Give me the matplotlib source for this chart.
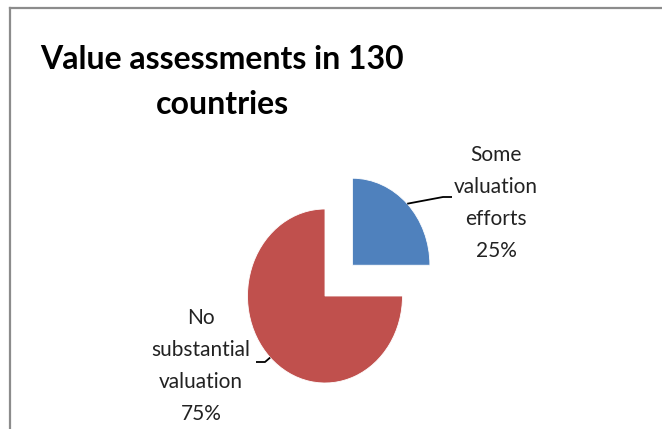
import numpy as np
import matplotlib.pyplot as plt
from matplotlib.lines import Line2D

# data
labels = ["Some\nvaluation\nefforts", "No\nsubstantial\nvaluation"]
shares = [25, 75]
colors = ["#4F81BD", "#C0504D"]
explode = [0.5, 0.0]

title = "Value assessments in 130\ncountries"

W, H = 662, 429
fig = plt.figure(figsize=(W / 100, H / 100), dpi=100)
ax = fig.add_axes([0, 0, 1, 1])

wedges, _ = ax.pie(shares, colors=colors, explode=explode, startangle=90,
                   counterclock=False, radius=1.0,
                   wedgeprops=dict(edgecolor="white", linewidth=0.6))

# pie centre at (325, 296) px, radius ~77.5 px wide / 87 px tall
cx, cy, rx, ry = 325, 296, 77.5, 87.0
ax.set_aspect("auto")
ax.set_xlim(-cx / rx, (W - cx) / rx)
ax.set_ylim(-(H - cy) / ry, cy / ry)
ax.axis("off")


def px(x, y):
    # pixel (from top-left) -> data coords
    return (x - cx) / rx, (cy - y) / ry


# leader lines from wedge mid-edge
# text position = centre x, baseline of last line
text_pos = [(496, 257), (201, 420)]
elbows = [((443, 197), (452, 197)), ((265, 362), (256, 362))]
for w, (e1, e2) in zip(wedges, elbows):
    mid = np.deg2rad((w.theta1 + w.theta2) / 2)
    ox, oy = w.center
    sx, sy = ox + np.cos(mid), oy + np.sin(mid)
    p1, p2 = px(*e1), px(*e2)
    ax.plot([sx, p1[0], p2[0]], [sy, p1[1], p2[1]], color="black", lw=1.3,
            solid_capstyle="butt")

font = ["Lato", "DejaVu Sans"]
for lab, s, (tx, ty) in zip(labels, shares, text_pos):
    fig.text(tx / W, 1 - ty / H, f"{lab}\n{s}%", ha="center", va="baseline",
             multialignment="center", fontsize=15, family=font,
             color="#222222", linespacing=1.74)

fig.text(222 / W, 1 - 114 / H, title, ha="center", va="baseline",
         multialignment="center", fontsize=23, fontweight="bold",
         family=font, color="black", linespacing=1.66)

# chart frame (only top and left visible)
fig.add_artist(Line2D([10 / W, 10 / W], [0, 1 - 8 / H], color="#8c8c8c",
                      lw=1.6, transform=fig.transFigure))
fig.add_artist(Line2D([10 / W, 1], [1 - 8 / H, 1 - 8 / H], color="#8c8c8c",
                      lw=1.6, transform=fig.transFigure))

fig.savefig("out.png", dpi=100)
